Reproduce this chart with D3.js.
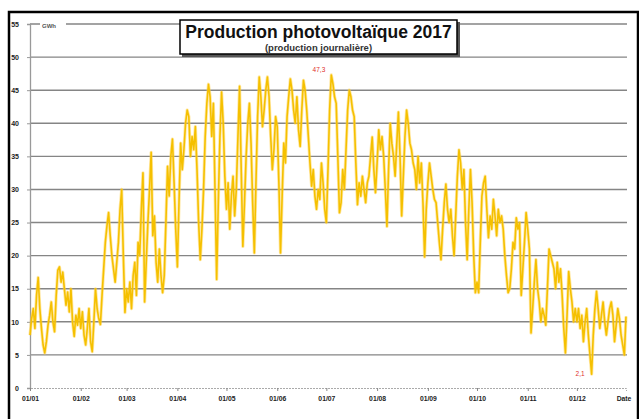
<!DOCTYPE html>
<html>
<head>
<meta charset="utf-8">
<script src="https://cdn.jsdelivr.net/npm/d3@7"></script>
<style>
  body { margin: 0; background: #fff; }
  text { font-family: "Liberation Sans", Arial, sans-serif; }
</style>
</head>
<body>
<div id="chart"></div>
<script>
// daily production (GWh), one array per month
const jan = [8, 10.5, 12, 9, 14, 16.7, 12, 9, 6.5, 5.3, 7, 9.5, 11, 13, 10, 8.5, 14, 17.8, 18.3, 16, 17.5, 15, 12.5, 14.5, 11.5, 15, 10, 7.8, 11, 9.5, 12]
const feb = [9, 11.5, 8, 6.5, 9, 12, 7, 5.5, 10, 15, 12, 10.5, 9.6, 14, 18, 22, 24.5, 26.5, 23, 20, 18, 16, 19, 22, 27, 30, 20, 11.4]
const mar = [15, 13, 16, 12, 17, 19, 14, 22, 20, 27, 32.5, 13, 19, 25, 30, 35.6, 23, 26, 19, 16, 21, 17, 14.4, 17, 25, 33.5, 29, 35, 37.6, 31, 24]
const apr = [18.3, 28, 37, 33, 36, 40, 42, 41, 35, 38, 36, 39.5, 33, 25, 19.4, 24, 30, 38, 43, 45.9, 44, 38, 43, 30, 16.4, 28, 38, 44.7, 40, 32]
const may = [27, 31, 24, 29, 32, 26, 30, 38, 45.6, 33, 21.4, 28, 35, 40, 43, 37, 28, 20.4, 31, 41, 47, 44, 39.5, 42, 45, 47, 44, 38, 33, 36, 41]
const jun = [39.5, 31, 20.4, 29, 37, 34, 41, 44, 46.7, 45, 42, 40, 44, 39, 36.5, 42, 46.5, 45, 42, 38, 34, 30.5, 33, 29, 27, 30, 28.5, 34, 31, 27]
const jul = [25, 33, 42, 47.3, 46, 44, 43, 35, 26.5, 28, 33, 30, 36, 42, 45, 44, 42, 41, 34, 27.7, 31, 29, 32, 30, 28, 31, 32, 35, 37.9, 33, 29.5]
const aug = [34, 39, 36, 38, 35, 30, 24.4, 33, 40, 37, 35, 32, 37, 41.7, 35, 26, 32, 38, 42, 40, 37, 36, 34, 33, 30, 35, 31, 34, 28, 19.8, 27]
const sep = [31, 34, 32, 30, 28.5, 28, 25, 22, 19.4, 24, 28, 30.8, 27, 25, 27, 23, 20, 26, 32, 36, 34, 30, 33, 25, 19.4, 27, 33, 28, 20, 14.4]
const oct = [16, 14.4, 22, 29, 31, 32, 27, 22.7, 26, 24, 28.5, 26, 23, 27, 25, 26, 24, 20, 17, 14.4, 15, 18, 22, 21, 25.7, 24, 25, 14, 18, 22, 26.5]
const nov = [24, 21, 8.3, 12, 16, 19.4, 15, 13, 10, 12, 11, 9.5, 15, 21, 20, 19, 18, 15, 19, 16, 18, 14, 9, 5.3, 11, 17.6, 15, 13, 10, 12]
const dec = [10, 12, 9, 11, 7, 10, 12, 8, 5, 2.1, 8, 12, 14.6, 12, 9, 11, 13, 10, 8, 10, 12, 13, 11, 7, 9.5, 12, 10.5, 8, 6.5, 5, 10.8]

const yTicks = [0, 5, 10, 15, 20, 25, 30, 35, 40, 45, 50, 55]
const title = 'Production photovoltaïque 2017'
const subtitle = '(production journalière)'

const values = [].concat(jan, feb, mar, apr, may, jun, jul, aug, sep, oct, nov, dec)
const start = new Date(2017, 0, 1)
const data = values.map((v, i) => ({ date: d3.timeDay.offset(start, i), value: v }))

const width = 639
const height = 419

const svg = d3.select('#chart').append('svg')
  .attr('width', width)
  .attr('height', height)

// outer frame
svg.append('rect')
  .attr('x', 9).attr('y', 12)
  .attr('width', 629).attr('height', 412)
  .attr('fill', '#fff')
  .attr('stroke', '#000')
  .attr('stroke-width', 2.5)

const x = d3.scaleTime()
  .domain([start, new Date(2017, 11, 31)])
  .range([30, 626])

const y = d3.scaleLinear()
  .domain([0, 55])
  .range([388, 24])

// horizontal grid
svg.append('g')
  .selectAll('line')
  .data(yTicks.filter(d => d > 0))
  .enter()
  .append('line')
  .attr('x1', 30).attr('x2', 627)
  .attr('y1', d => y(d)).attr('y2', d => y(d))
  .attr('stroke', '#858585')
  .attr('stroke-width', 1.4)

// y axis
const yAxis = svg.append('g')
  .attr('transform', 'translate(30,0)')
  .call(d3.axisLeft(y).tickValues(yTicks).tickSize(3).tickPadding(6))
yAxis.select('.domain').attr('stroke', '#999').attr('stroke-width', 1.3)
yAxis.selectAll('.tick line').attr('stroke', '#999')
yAxis.selectAll('text')
  .attr('font-size', 7)
  .attr('font-weight', 'bold')
  .attr('fill', '#222')
  .attr('dx', -2)

// x axis
const xAxis = svg.append('g')
  .attr('transform', 'translate(0,388)')
  .call(d3.axisBottom(x).ticks(d3.timeMonth.every(1)).tickFormat(d3.timeFormat('%d/%m')).tickSize(3).tickPadding(5))
xAxis.select('.domain').attr('stroke', '#aaa').attr('stroke-width', 1).attr('stroke-dasharray', '2,1')
xAxis.selectAll('.tick line').attr('stroke', '#888')
xAxis.selectAll('text')
  .attr('font-size', 6.8)
  .attr('font-weight', 'bold')
  .attr('fill', '#222')

svg.append('text')
  .attr('x', 624).attr('y', 401)
  .attr('text-anchor', 'middle')
  .attr('font-size', 6.8)
  .attr('font-weight', 'bold')
  .attr('fill', '#222')
  .text('Date')

// unit label
svg.append('rect')
  .attr('x', 40).attr('y', 21)
  .attr('width', 26).attr('height', 8)
  .attr('fill', '#fff')
svg.append('text')
  .attr('x', 42).attr('y', 28)
  .attr('font-size', 6)
  .attr('font-weight', 'bold')
  .attr('fill', '#555')
  .text('GWh')

// production line
const line = d3.line()
  .x(d => x(d.date))
  .y(d => y(d.value))

svg.append('path')
  .datum(data)
  .attr('fill', 'none')
  .attr('stroke', '#ffd24a')
  .attr('stroke-width', 3.2)
  .attr('stroke-opacity', 0.5)
  .attr('stroke-linejoin', 'round')
  .attr('d', line)

svg.append('path')
  .datum(data)
  .attr('fill', 'none')
  .attr('stroke', '#f5c000')
  .attr('stroke-width', 1.6)
  .attr('stroke-linejoin', 'round')
  .attr('d', line)

// max / min labels
const maxD = data.reduce((a, b) => (b.value > a.value ? b : a))
const minD = data.reduce((a, b) => (b.value < a.value ? b : a))
const fmt = v => String(v).replace('.', ',')

svg.append('text')
  .attr('x', x(maxD.date) - 6).attr('y', y(maxD.value) - 3)
  .attr('text-anchor', 'end')
  .attr('font-size', 6.5)
  .attr('fill', '#e0302a')
  .text(fmt(maxD.value))

svg.append('text')
  .attr('x', x(minD.date) - 7).attr('y', y(minD.value) + 2)
  .attr('text-anchor', 'end')
  .attr('font-size', 6.5)
  .attr('fill', '#e0302a')
  .text(fmt(minD.value))

// title box
const tb = svg.append('g')
tb.append('rect')
  .attr('x', 182).attr('y', 22)
  .attr('width', 278).attr('height', 35)
  .attr('fill', '#555')
tb.append('rect')
  .attr('x', 180).attr('y', 20)
  .attr('width', 277).attr('height', 34)
  .attr('fill', '#fff')
  .attr('stroke', '#000')
  .attr('stroke-width', 1.5)
tb.append('text')
  .attr('x', 318.5).attr('y', 38)
  .attr('text-anchor', 'middle')
  .attr('font-size', 17.5)
  .attr('font-weight', 'bold')
  .attr('fill', '#111')
  .text(title)
tb.append('text')
  .attr('x', 318.5).attr('y', 50.5)
  .attr('text-anchor', 'middle')
  .attr('font-size', 9.5)
  .attr('font-weight', 'bold')
  .attr('fill', '#333')
  .text(subtitle)
</script>
</body>
</html>
